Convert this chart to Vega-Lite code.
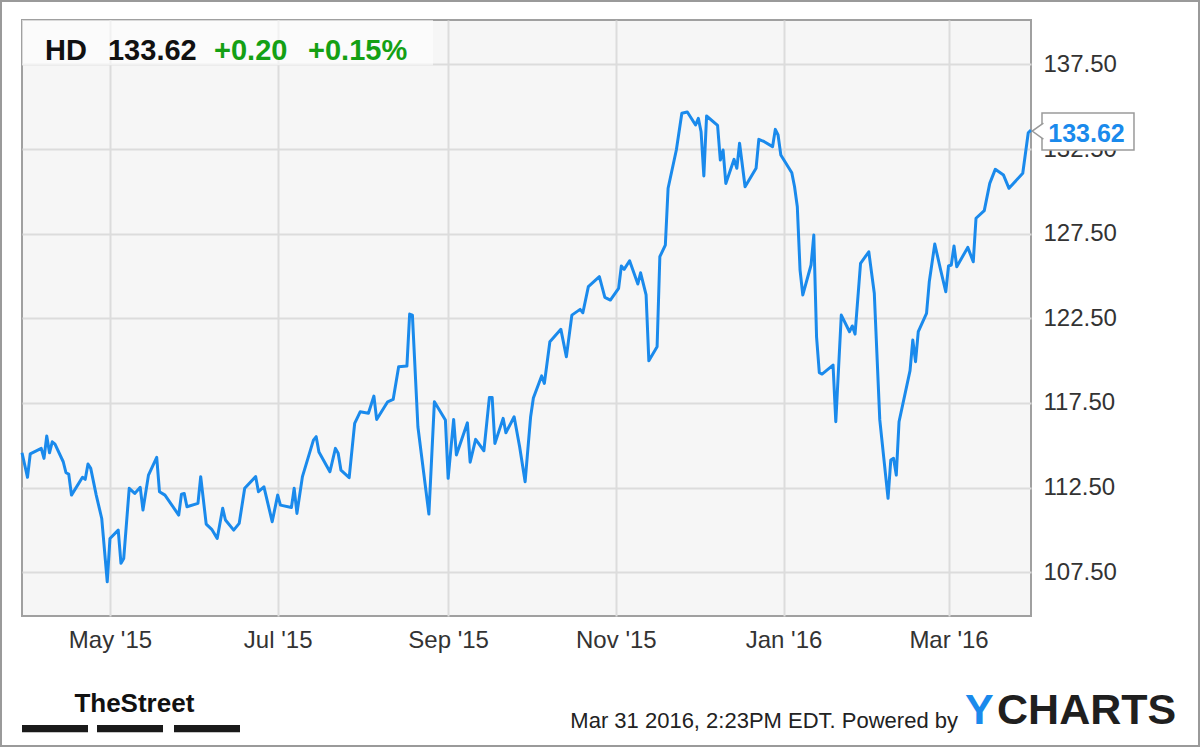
{
  "$schema": "https://vega.github.io/schema/vega-lite/v6.json",
  "width": 1009,
  "height": 596,
  "autosize": {"type": "none"},
  "padding": {"left": 22, "top": 20, "right": 169, "bottom": 131},
  "background": "#ffffff",
  "config": {
    "font": "Liberation Sans",
    "view": {"fill": "#f6f6f6", "stroke": "#a0a0a0", "strokeWidth": 2},
    "axis": {"zindex": 0, "ticks": false, "domain": false, "gridColor": "#dcdcdc", "gridWidth": 2, "labelFont": "Liberation Sans", "labelFontSize": 24, "labelColor": "#333333", "title": null}
  },
  "datasets": {
    "hd": [
      {"d": "2015-03-30", "p": 114.56}, {"d": "2015-04-01", "p": 113.11}, {"d": "2015-04-02", "p": 114.5},
      {"d": "2015-04-06", "p": 114.82}, {"d": "2015-04-07", "p": 114.23}, {"d": "2015-04-08", "p": 115.55},
      {"d": "2015-04-09", "p": 114.56}, {"d": "2015-04-10", "p": 115.21}, {"d": "2015-04-11", "p": 115.07},
      {"d": "2015-04-14", "p": 114.03}, {"d": "2015-04-15", "p": 113.38}, {"d": "2015-04-16", "p": 113.3},
      {"d": "2015-04-17", "p": 112.06}, {"d": "2015-04-21", "p": 113.11}, {"d": "2015-04-22", "p": 112.99},
      {"d": "2015-04-23", "p": 113.9}, {"d": "2015-04-24", "p": 113.64}, {"d": "2015-04-26", "p": 112.06},
      {"d": "2015-04-28", "p": 110.68}, {"d": "2015-04-30", "p": 106.94}, {"d": "2015-05-01", "p": 109.5},
      {"d": "2015-05-04", "p": 109.99}, {"d": "2015-05-05", "p": 108.03}, {"d": "2015-05-06", "p": 108.32},
      {"d": "2015-05-08", "p": 112.46}, {"d": "2015-05-10", "p": 112.16}, {"d": "2015-05-12", "p": 112.52},
      {"d": "2015-05-13", "p": 111.18}, {"d": "2015-05-15", "p": 113.24}, {"d": "2015-05-18", "p": 114.29},
      {"d": "2015-05-19", "p": 112.26}, {"d": "2015-05-21", "p": 112.06}, {"d": "2015-05-26", "p": 110.88},
      {"d": "2015-05-27", "p": 112.12}, {"d": "2015-05-28", "p": 112.16}, {"d": "2015-05-29", "p": 111.37},
      {"d": "2015-06-02", "p": 111.57}, {"d": "2015-06-03", "p": 113.15}, {"d": "2015-06-05", "p": 110.35},
      {"d": "2015-06-07", "p": 110.04}, {"d": "2015-06-09", "p": 109.5}, {"d": "2015-06-11", "p": 111.28},
      {"d": "2015-06-12", "p": 110.59}, {"d": "2015-06-15", "p": 109.99}, {"d": "2015-06-17", "p": 110.39},
      {"d": "2015-06-19", "p": 112.46}, {"d": "2015-06-23", "p": 113.15}, {"d": "2015-06-24", "p": 112.26},
      {"d": "2015-06-26", "p": 112.55}, {"d": "2015-06-29", "p": 110.49}, {"d": "2015-07-01", "p": 112.06},
      {"d": "2015-07-02", "p": 111.47}, {"d": "2015-07-06", "p": 111.33}, {"d": "2015-07-07", "p": 112.46},
      {"d": "2015-07-08", "p": 110.98}, {"d": "2015-07-10", "p": 113.15}, {"d": "2015-07-14", "p": 115.31},
      {"d": "2015-07-15", "p": 115.51}, {"d": "2015-07-16", "p": 114.6}, {"d": "2015-07-20", "p": 113.44},
      {"d": "2015-07-22", "p": 114.82}, {"d": "2015-07-23", "p": 114.53}, {"d": "2015-07-24", "p": 113.54},
      {"d": "2015-07-27", "p": 113.09}, {"d": "2015-07-29", "p": 116.3}, {"d": "2015-07-31", "p": 116.98},
      {"d": "2015-08-03", "p": 116.89}, {"d": "2015-08-05", "p": 117.91}, {"d": "2015-08-06", "p": 116.53},
      {"d": "2015-08-10", "p": 117.57}, {"d": "2015-08-12", "p": 117.71}, {"d": "2015-08-14", "p": 119.64},
      {"d": "2015-08-17", "p": 119.68}, {"d": "2015-08-18", "p": 122.75}, {"d": "2015-08-19", "p": 122.69},
      {"d": "2015-08-21", "p": 116.1}, {"d": "2015-08-25", "p": 110.94}, {"d": "2015-08-27", "p": 117.57},
      {"d": "2015-08-31", "p": 116.5}, {"d": "2015-09-01", "p": 113.05}, {"d": "2015-09-03", "p": 116.53},
      {"d": "2015-09-04", "p": 114.43}, {"d": "2015-09-08", "p": 116.33}, {"d": "2015-09-09", "p": 114.0},
      {"d": "2015-09-11", "p": 115.35}, {"d": "2015-09-14", "p": 114.68}, {"d": "2015-09-16", "p": 117.83},
      {"d": "2015-09-17", "p": 117.83}, {"d": "2015-09-18", "p": 115.11}, {"d": "2015-09-21", "p": 116.59},
      {"d": "2015-09-22", "p": 115.74}, {"d": "2015-09-25", "p": 116.69}, {"d": "2015-09-27", "p": 114.92},
      {"d": "2015-09-29", "p": 112.85}, {"d": "2015-10-01", "p": 116.69}, {"d": "2015-10-02", "p": 117.8},
      {"d": "2015-10-05", "p": 119.1}, {"d": "2015-10-06", "p": 118.66}, {"d": "2015-10-08", "p": 121.12},
      {"d": "2015-10-12", "p": 121.85}, {"d": "2015-10-14", "p": 120.23}, {"d": "2015-10-16", "p": 122.69},
      {"d": "2015-10-19", "p": 123.03}, {"d": "2015-10-20", "p": 122.83}, {"d": "2015-10-22", "p": 124.37},
      {"d": "2015-10-26", "p": 124.96}, {"d": "2015-10-28", "p": 123.74}, {"d": "2015-10-30", "p": 123.58},
      {"d": "2015-11-02", "p": 124.27}, {"d": "2015-11-03", "p": 125.59}, {"d": "2015-11-04", "p": 125.39},
      {"d": "2015-11-06", "p": 125.9}, {"d": "2015-11-09", "p": 124.53}, {"d": "2015-11-10", "p": 125.19},
      {"d": "2015-11-12", "p": 123.88}, {"d": "2015-11-13", "p": 119.99}, {"d": "2015-11-16", "p": 120.82},
      {"d": "2015-11-17", "p": 126.14}, {"d": "2015-11-19", "p": 126.83}, {"d": "2015-11-20", "p": 130.18},
      {"d": "2015-11-23", "p": 132.44}, {"d": "2015-11-25", "p": 134.61}, {"d": "2015-11-27", "p": 134.69},
      {"d": "2015-11-30", "p": 133.92}, {"d": "2015-12-01", "p": 134.31}, {"d": "2015-12-02", "p": 133.52},
      {"d": "2015-12-03", "p": 130.91}, {"d": "2015-12-04", "p": 134.45}, {"d": "2015-12-08", "p": 133.9},
      {"d": "2015-12-09", "p": 131.85}, {"d": "2015-12-10", "p": 132.44}, {"d": "2015-12-11", "p": 130.47},
      {"d": "2015-12-14", "p": 131.89}, {"d": "2015-12-15", "p": 131.36}, {"d": "2015-12-16", "p": 132.84},
      {"d": "2015-12-18", "p": 130.27}, {"d": "2015-12-22", "p": 131.36}, {"d": "2015-12-23", "p": 133.07},
      {"d": "2015-12-25", "p": 132.93}, {"d": "2015-12-28", "p": 132.64}, {"d": "2015-12-29", "p": 133.66},
      {"d": "2015-12-30", "p": 133.33}, {"d": "2015-12-31", "p": 132.15}, {"d": "2016-01-04", "p": 131.1},
      {"d": "2016-01-05", "p": 130.27}, {"d": "2016-01-06", "p": 129.09}, {"d": "2016-01-07", "p": 125.35},
      {"d": "2016-01-08", "p": 123.88}, {"d": "2016-01-11", "p": 125.65}, {"d": "2016-01-12", "p": 127.42},
      {"d": "2016-01-13", "p": 121.41}, {"d": "2016-01-14", "p": 119.29}, {"d": "2016-01-15", "p": 119.21},
      {"d": "2016-01-19", "p": 119.74}, {"d": "2016-01-20", "p": 116.39}, {"d": "2016-01-22", "p": 122.69},
      {"d": "2016-01-25", "p": 121.71}, {"d": "2016-01-26", "p": 122.05}, {"d": "2016-01-27", "p": 121.57},
      {"d": "2016-01-29", "p": 125.75}, {"d": "2016-02-01", "p": 126.43}, {"d": "2016-02-03", "p": 123.98},
      {"d": "2016-02-05", "p": 116.5}, {"d": "2016-02-08", "p": 111.87}, {"d": "2016-02-09", "p": 114.13},
      {"d": "2016-02-10", "p": 114.23}, {"d": "2016-02-11", "p": 113.24}, {"d": "2016-02-12", "p": 116.39},
      {"d": "2016-02-16", "p": 119.41}, {"d": "2016-02-17", "p": 121.22}, {"d": "2016-02-18", "p": 119.94},
      {"d": "2016-02-19", "p": 121.71}, {"d": "2016-02-22", "p": 122.79}, {"d": "2016-02-23", "p": 124.66},
      {"d": "2016-02-25", "p": 126.89}, {"d": "2016-02-27", "p": 125.45}, {"d": "2016-02-29", "p": 124.07},
      {"d": "2016-03-01", "p": 125.59}, {"d": "2016-03-02", "p": 125.65}, {"d": "2016-03-03", "p": 126.77},
      {"d": "2016-03-04", "p": 125.55}, {"d": "2016-03-08", "p": 126.69}, {"d": "2016-03-10", "p": 125.84},
      {"d": "2016-03-11", "p": 128.41}, {"d": "2016-03-14", "p": 128.86}, {"d": "2016-03-16", "p": 130.47},
      {"d": "2016-03-18", "p": 131.3}, {"d": "2016-03-21", "p": 130.96}, {"d": "2016-03-23", "p": 130.18},
      {"d": "2016-03-28", "p": 131.07}, {"d": "2016-03-30", "p": 133.46}, {"d": "2016-03-31", "p": 133.62}
    ]
  },
  "layer": [
    {
      "data": {"name": "hd"},
      "mark": {"type": "line", "color": "#1a8aec", "strokeWidth": 3, "strokeJoin": "round"},
      "encoding": {
        "x": {"field": "d", "type": "temporal", "scale": {"type": "utc", "nice": false, "domain": [1427673600000, 1459382400000]},
          "axis": {"title": null, "values": [1430438400000, 1435708800000, 1441065600000, 1446336000000, 1451606400000, 1456790400000], "format": "%b '%y", "labelPadding": 12, "grid": true}},
        "y": {"field": "p", "type": "quantitative", "scale": {"domain": [104.92, 140.12], "nice": false, "zero": false},
          "axis": {"title": null, "orient": "right", "values": [107.5, 112.5, 117.5, 122.5, 127.5, 132.5, 137.5], "format": ".2f", "labelPadding": 12, "grid": true}}
      }
    },
    {
      "data": {"values": [{}]},
      "mark": {"type": "rect", "fill": "#ffffff", "opacity": 0.6},
      "encoding": {
        "x": {"datum": 1427673600000, "type": "temporal"},
        "x2": {"datum": 1440590400000},
        "y": {"datum": 137.45, "type": "quantitative"},
        "y2": {"datum": 140.12}
      }
    },
    {
      "data": {"values": [{"t": "HD"}]},
      "mark": {"type": "text", "align": "left", "baseline": "alphabetic", "font": "Liberation Sans", "fontSize": 29, "fontWeight": "bold", "color": "#111111"},
      "encoding": {"x": {"datum": 1428397000000, "type": "temporal"}, "y": {"datum": 137.76, "type": "quantitative"}, "text": {"field": "t"}}
    },
    {
      "data": {"values": [{"t": "133.62"}]},
      "mark": {"type": "text", "align": "left", "baseline": "alphabetic", "font": "Liberation Sans", "fontSize": 29, "fontWeight": "bold", "color": "#111111"},
      "encoding": {"x": {"datum": 1430376000000, "type": "temporal"}, "y": {"datum": 137.76, "type": "quantitative"}, "text": {"field": "t"}}
    },
    {
      "data": {"values": [{"t": "+0.20"}]},
      "mark": {"type": "text", "align": "left", "baseline": "alphabetic", "font": "Liberation Sans", "fontSize": 29, "fontWeight": "bold", "color": "#14a014"},
      "encoding": {"x": {"datum": 1433708000000, "type": "temporal"}, "y": {"datum": 137.76, "type": "quantitative"}, "text": {"field": "t"}}
    },
    {
      "data": {"values": [{"t": "+0.15%"}]},
      "mark": {"type": "text", "align": "left", "baseline": "alphabetic", "font": "Liberation Sans", "fontSize": 29, "fontWeight": "bold", "color": "#14a014"},
      "encoding": {"x": {"datum": 1436662000000, "type": "temporal"}, "y": {"datum": 137.76, "type": "quantitative"}, "text": {"field": "t"}}
    },
    {
      "data": {"values": [{}]},
      "mark": {"type": "rect", "fill": "#ffffff", "stroke": "#9a9a9a", "strokeWidth": 1.5},
      "encoding": {
        "x": {"datum": 1459728000000, "type": "temporal"},
        "x2": {"datum": 1462619000000},
        "y": {"datum": 132.44, "type": "quantitative"},
        "y2": {"datum": 134.63}
      }
    },
    {
      "data": {"values": [{}]},
      "mark": {"type": "point", "shape": "M0.8,-1L-0.6,0L0.8,1", "size": 256, "filled": true, "fill": "#ffffff", "stroke": "#9a9a9a", "strokeWidth": 1.5, "opacity": 1},
      "encoding": {"x": {"datum": 1459571000000, "type": "temporal"}, "y": {"datum": 133.56, "type": "quantitative"}}
    },
    {
      "data": {"values": [{"t": "133.62"}]},
      "mark": {"type": "text", "align": "center", "baseline": "alphabetic", "font": "Liberation Sans", "fontSize": 25, "fontWeight": "bold", "color": "#1a8aec"},
      "encoding": {"x": {"datum": 1461127000000, "type": "temporal"}, "y": {"datum": 132.93, "type": "quantitative"}, "text": {"field": "t"}}
    },
    {
      "data": {"values": [{"t": "TheStreet"}]},
      "mark": {"type": "text", "align": "left", "baseline": "alphabetic", "font": "Liberation Sans", "fontSize": 26, "fontWeight": "bold", "color": "#111111"},
      "encoding": {"x": {"datum": 1429320000000, "type": "temporal"}, "y": {"datum": 99.25, "type": "quantitative"}, "text": {"field": "t"}}
    },
    {
      "data": {"values": [{}]},
      "mark": {"type": "rect", "fill": "#1a1a1a"},
      "encoding": {"x": {"datum": 1427673600000, "type": "temporal"}, "x2": {"datum": 1429747700000}, "y": {"datum": 98.06, "type": "quantitative"}, "y2": {"datum": 98.48}}
    },
    {
      "data": {"values": [{}]},
      "mark": {"type": "rect", "fill": "#1a1a1a"},
      "encoding": {"x": {"datum": 1430030700000, "type": "temporal"}, "x2": {"datum": 1432104800000}, "y": {"datum": 98.06, "type": "quantitative"}, "y2": {"datum": 98.48}}
    },
    {
      "data": {"values": [{}]},
      "mark": {"type": "rect", "fill": "#1a1a1a"},
      "encoding": {"x": {"datum": 1432450400000, "type": "temporal"}, "x2": {"datum": 1434524500000}, "y": {"datum": 98.06, "type": "quantitative"}, "y2": {"datum": 98.48}}
    },
    {
      "data": {"values": [{"t": "Mar 31 2016, 2:23PM EDT. Powered by"}]},
      "mark": {"type": "text", "align": "right", "baseline": "alphabetic", "font": "Liberation Sans", "fontSize": 22, "color": "#222222"},
      "encoding": {"x": {"datum": 1457088500000, "type": "temporal"}, "y": {"datum": 98.3, "type": "quantitative"}, "text": {"field": "t"}}
    },
    {
      "data": {"values": [{"t": "Y"}]},
      "mark": {"type": "text", "align": "left", "baseline": "alphabetic", "font": "Liberation Sans", "fontSize": 43, "fontWeight": "bold", "color": "#1a8aec"},
      "encoding": {"x": {"datum": 1457308800000, "type": "temporal"}, "y": {"datum": 98.54, "type": "quantitative"}, "text": {"field": "t"}}
    },
    {
      "data": {"values": [{"t": "CHARTS"}]},
      "mark": {"type": "text", "align": "left", "baseline": "alphabetic", "font": "Liberation Sans", "fontSize": 43, "fontWeight": "bold", "color": "#1f1f1f"},
      "encoding": {"x": {"datum": 1458314500000, "type": "temporal"}, "y": {"datum": 98.54, "type": "quantitative"}, "text": {"field": "t"}}
    },
    {
      "data": {"values": [{}]},
      "mark": {"type": "rect", "filled": false, "stroke": "#9a9a9a", "strokeWidth": 2},
      "encoding": {"x": {"datum": 1427013504000, "type": "temporal"}, "x2": {"datum": 1464662304000}, "y": {"datum": 97.24, "type": "quantitative"}, "y2": {"datum": 141.24}}
    }
  ]
}
